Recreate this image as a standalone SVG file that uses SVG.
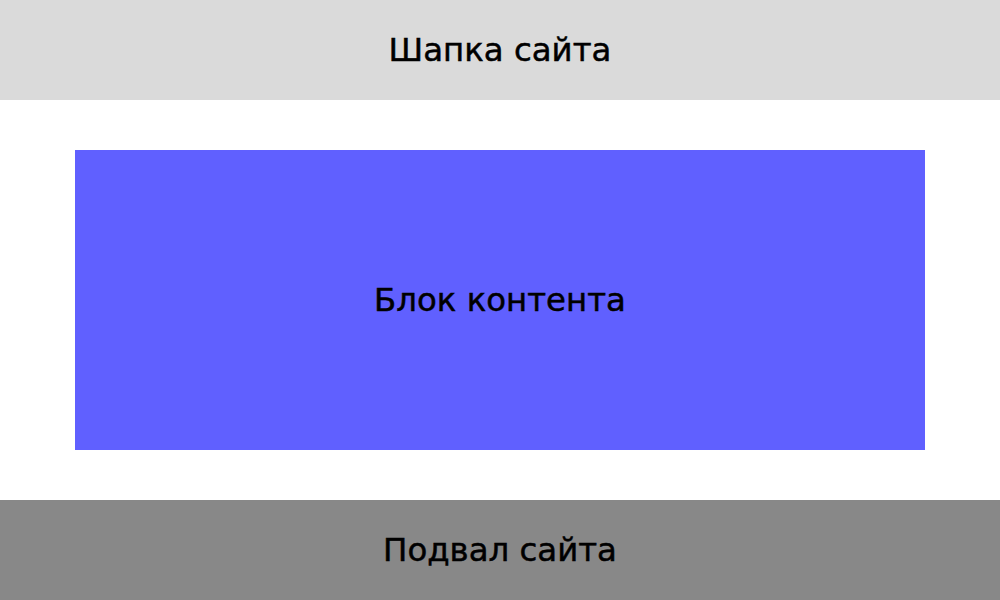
<svg xmlns="http://www.w3.org/2000/svg" width="1000" height="600" viewBox="0 0 1000 600">
<style>
text{font-family:"DejaVu Sans","Noto Sans",sans-serif;font-size:32.4px;fill:#000;stroke:#000;stroke-width:0.5;text-anchor:middle;dominant-baseline:central}
</style>
<rect width="1000" height="600" fill="#fff"/>
<g id="header"><rect x="0" y="0" width="1000" height="100" fill="#dadada"/><text x="500" y="50">Шапка сайта</text></g>
<g id="content"><rect x="75" y="150" width="850" height="300" fill="#6060ff"/><text x="500" y="300">Блок контента</text></g>
<g id="footer"><rect x="0" y="500" width="1000" height="100" fill="#888888"/><text x="500" y="550">Подвал сайта</text></g>
<g id="connectors"/>
</svg>
